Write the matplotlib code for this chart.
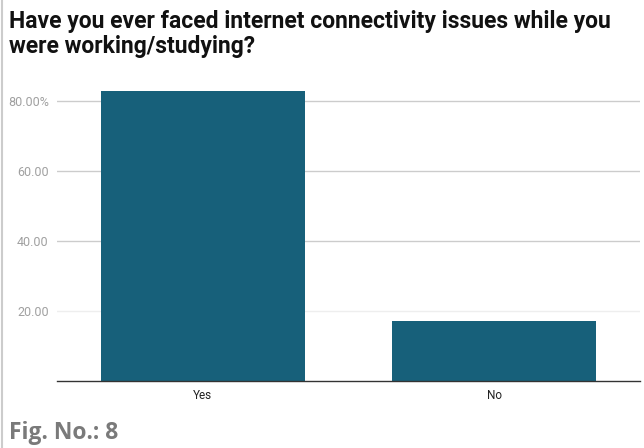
import matplotlib.pyplot as plt
from matplotlib.lines import Line2D

categories = ['Yes', 'No']
percentages = [82.9, 17.1]
tick_values = [20, 40, 60, 80]
tick_labels = ['20.00', '40.00', '60.00', '80.00%']

plt.rcParams['font.family'] = ['Roboto', 'DejaVu Sans']

fig = plt.figure(figsize=(6.44, 4.48), dpi=100)
ax = fig.add_axes([57 / 644, 1 - 381 / 448, 583 / 644, 293 / 448])

x = range(len(categories))
ax.bar(x, percentages, width=0.7, color='#17607a', zorder=3)

ax.set_xlim(-0.5, 1.5)
ax.set_ylim(0, 83.7)
ax.set_xticks(list(x))
ax.set_xticklabels(categories, fontsize=8.5, color='#222222')
ax.set_yticks(tick_values)
ax.set_yticklabels(tick_labels, fontsize=9, color='#a0a0a0')
ax.tick_params(axis='both', length=0, pad=6)
ax.tick_params(axis='x', pad=6)

# horizontal gridlines, the lowest one drawn lighter
for v in tick_values:
    ax.axhline(v, color='#eeeeee' if v == 20 else '#cccccc', linewidth=1, zorder=1)

for side in ['top', 'right', 'left']:
    ax.spines[side].set_visible(False)
ax.spines['bottom'].set_color('#333333')
ax.spines['bottom'].set_linewidth(1)
ax.spines['bottom'].set_zorder(4)

fig.text(9 / 644, 1 - 34 / 448, 'Have you ever faced internet connectivity issues while you\nwere working/studying?',
         fontsize=16.5, fontweight='bold', color='#111111', va='center', ha='left', linespacing=1.15)
fig.text(9 / 644, 1 - 433 / 448, 'Fig. No.: 8', fontsize=16.5, fontweight='bold', color='#7a7a7a',
         family=['Open Sans', 'DejaVu Sans'], va='center', ha='left')

# thin grey border at the left edge
fig.add_artist(Line2D([2 / 644, 2 / 644], [0, 1], color='#cccccc', linewidth=1.5, transform=fig.transFigure))

fig.savefig('out.png', dpi=100)
